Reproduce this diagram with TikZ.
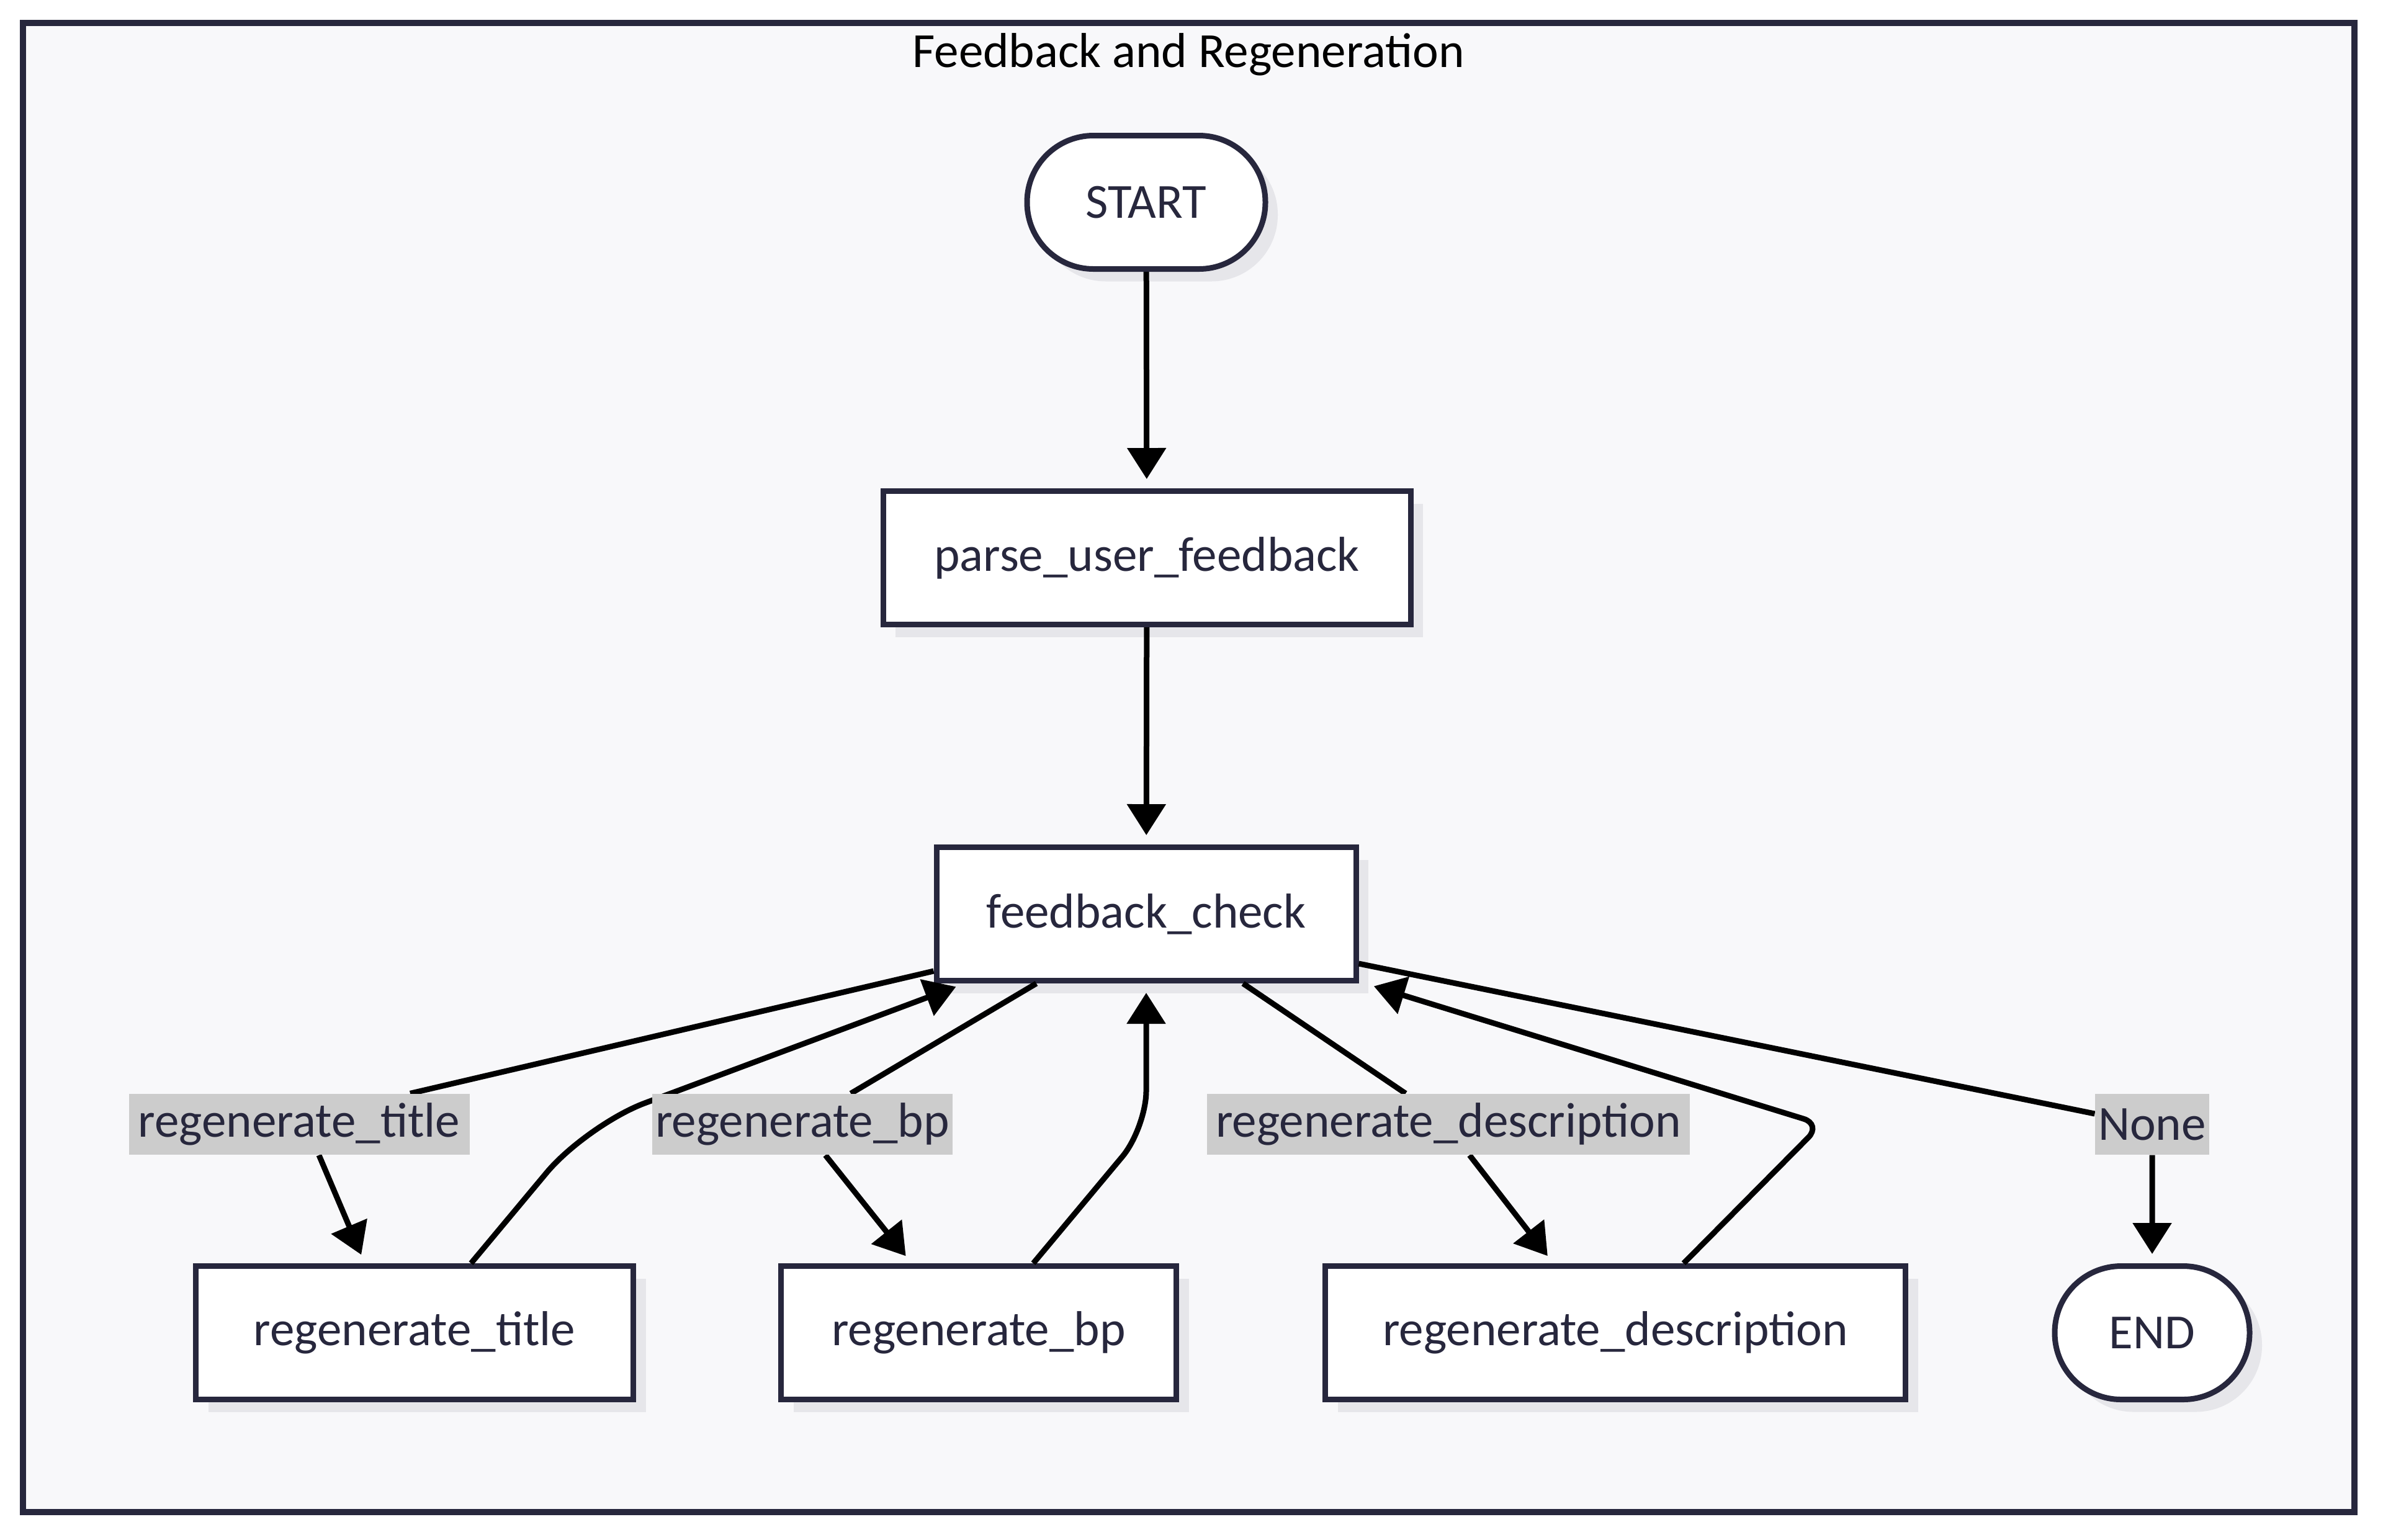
\documentclass[tikz,border=0pt]{standalone}
\usepackage{fontspec}
\setmainfont{Carlito}
\usepackage{tikz}
\usetikzlibrary{shapes,arrows,positioning,shadows,backgrounds,arrows.meta}
\definecolor{navy}{HTML}{27273D}
\definecolor{panel}{HTML}{F8F8FA}
\definecolor{shade}{HTML}{E6E6EA}
\definecolor{tagbg}{HTML}{CCCCCC}
\tikzstyle{proc} = [rectangle, draw=navy, line width=0.09cm, fill=white, text=navy, minimum height=2.15cm, drop shadow={shadow xshift=0.2cm, shadow yshift=-0.2cm, fill=shade, opacity=1}]
\tikzstyle{term} = [proc, rounded corners=1.07cm]
\tikzstyle{tag} = [fill=tagbg, text=navy, minimum height=0.98cm, inner xsep=0.05cm, inner ysep=0pt]
\tikzstyle{flow} = [-{Triangle[length=0.5cm,width=0.61cm]}, line width=0.09cm, shorten >=0.15cm]
\pgfdeclarelayer{front}
\pgfsetlayers{main,front}

\begin{document}
\begin{tikzpicture}[font=\fontsize{22.5}{27}\selectfont]
    \useasboundingbox[fill=white] (0,0) rectangle (38.4,-24.81);
    % Subgraph frame
    \draw[draw=navy, fill=panel, line width=0.1cm] (0.37,-0.37) rectangle (37.94,-24.37);
    \node (heading) at (19.15,-0.88) {Feedback and Regeneration};

    % Nodes
    \node[term, minimum width=3.84cm] (start) at (18.47,-3.26) {START};
    \node[proc, minimum width=8.50cm] (parse) at (18.48,-8.99) {parse\_user\_feedback};
    \node[proc, minimum width=6.76cm] (check) at (18.47,-14.73) {feedback\_check};
    \node[proc, minimum width=7.05cm] (title) at (6.68,-21.48) {regenerate\_title};
    \node[proc, minimum width=6.37cm] (bp) at (15.77,-21.48) {regenerate\_bp};
    \node[proc, minimum width=9.35cm] (desc) at (26.03,-21.48) {regenerate\_description};
    \node[term, minimum width=3.14cm] (end) at (34.68,-21.48) {END};

    % Edge labels
    \begin{pgfonlayer}{front}
    \node[tag, minimum width=5.49cm] (lbl1) at (4.82,-18.12) {regenerate\_title};
    \node[tag, minimum width=4.80cm] (lbl2) at (12.93,-18.12) {regenerate\_bp};
    \node[tag, minimum width=7.78cm] (lbl3) at (23.34,-18.12) {regenerate\_description};
    \node[tag, minimum width=1.62cm] (lbl4) at (34.68,-18.12) {None};
    \end{pgfonlayer}

    % Main flow
    \draw[flow] (start) -- (parse);
    \draw[flow] (parse) -- (check);

    % Branches out of feedback_check
    \draw[flow] ([yshift=0.2cm]check.south west) -- ([xshift=1.79cm]lbl1.north)
        ([xshift=0.32cm]lbl1.south) -- ([xshift=-0.8cm]title.north);
    \draw[flow] ([xshift=-1.77cm]check.south) -- ([xshift=0.78cm]lbl2.north)
        ([xshift=0.37cm]lbl2.south) -- ([xshift=-1.08cm]bp.north);
    \draw[flow] ([xshift=1.56cm]check.south) -- ([xshift=-0.69cm]lbl3.north)
        ([xshift=0.34cm]lbl3.south) -- ([xshift=-1.0cm]desc.north);
    \draw[flow] ([yshift=0.32cm]check.south east) -- ([yshift=0.17cm]lbl4.west)
        (lbl4.south) -- (end.north);

    % Loops back
    \draw[flow, rounded corners=1cm] ([xshift=0.91cm]title.north) -- (9.45,-18.13) -- ([xshift=0.5cm]check.south west);
    \draw[flow, rounded corners=0.6cm] ([xshift=0.88cm]bp.north) -- (18.47,-18.18) -- (check.south);
    \draw[flow, rounded corners=0.3cm] ([xshift=1.10cm]desc.north) -- (29.35,-18.12) -- ([xshift=0.1cm]check.south east);
\end{tikzpicture}
\end{document}
